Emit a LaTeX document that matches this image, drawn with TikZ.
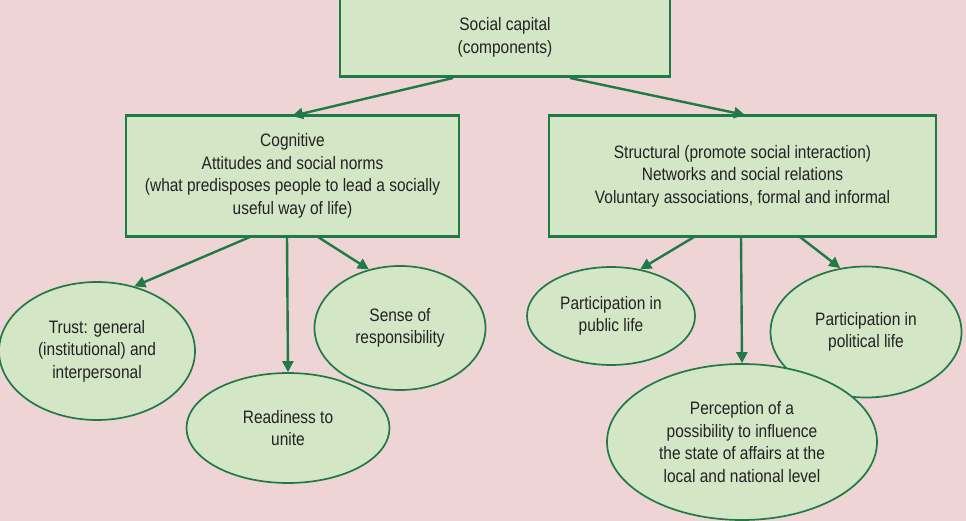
\documentclass[tikz,border=0pt]{standalone}
\usepackage{fontspec}
\setmainfont[FakeStretch=0.86]{Liberation Sans}
\usetikzlibrary{shapes.geometric,arrows.meta}
\definecolor{bgpink}{HTML}{EFD4D6}
\definecolor{boxfill}{HTML}{D3E6C6}
\definecolor{lnc}{HTML}{1F7A45}
\definecolor{txt}{HTML}{222222}
\begin{document}
\begin{tikzpicture}[x=1pt,y=-1pt,
  every node/.style={text=txt,font=\fontsize{18}{22.5}\selectfont,align=center},
  rbox/.style={draw=lnc,line width=2.2pt,fill=boxfill,rectangle,inner sep=0pt},
  oval/.style={draw=lnc,line width=1.7pt,fill=boxfill,ellipse,inner sep=0pt},
  arr/.style={draw=lnc,line width=2.4pt,-{Triangle[length=11pt,width=11pt]}}]
\fill[bgpink] (0,0) rectangle (966,521);
\useasboundingbox (0,0) rectangle (966,521);
% boxes
\node[rbox,minimum width=330pt,minimum height=78pt] (top) at (505,37.5) {Social capital\\(components)};
\node[rbox,minimum width=333pt,minimum height=121pt] (cog) at (292.5,176) {Cognitive\\Attitudes and social norms\\(what predisposes people to lead a socially\\useful way of life)};
\node[rbox,minimum width=387pt,minimum height=121pt] (str) at (742.5,176) {Structural (promote social interaction)\\Networks and social relations\\Voluntary associations, formal and informal};
% ovals
\node[oval,minimum width=196pt,minimum height=138pt] (trust) at (97,351) {Trust: general\\(institutional) and\\interpersonal};
\node[oval,minimum width=203pt,minimum height=110pt] (ready) at (288,428) {Readiness to\\unite};
\node[oval,minimum width=171pt,minimum height=124pt] (sense) at (400,328) {Sense of\\responsibility};
\node[oval,minimum width=168pt,minimum height=98pt] (pub) at (611,316) {Participation in\\public life};
\node[oval,minimum width=191pt,minimum height=131pt] (pol) at (866,332) {Participation in\\political life};
\node[oval,minimum width=270pt,minimum height=156pt] (perc) at (742,442) {Perception of a\\possibility to influence\\the state of affairs at the\\local and national level};
% connectors
\coordinate (t1) at (453,78);
\coordinate (t2) at (570,78);
\draw[arr] (t1) -- (292,116);
\draw[arr] (t2) -- (745,115);
\draw[arr] (250,237) -- (trust.60);
\draw[arr] (287,237) -- (ready.north);
\draw[arr] (318,237) -- (sense.118);
\draw[arr] (694,237) -- (pub.58);
\draw[arr] (741,237) -- (perc.north);
\draw[arr] (800,237) -- (pol.112);
\end{tikzpicture}
\end{document}
